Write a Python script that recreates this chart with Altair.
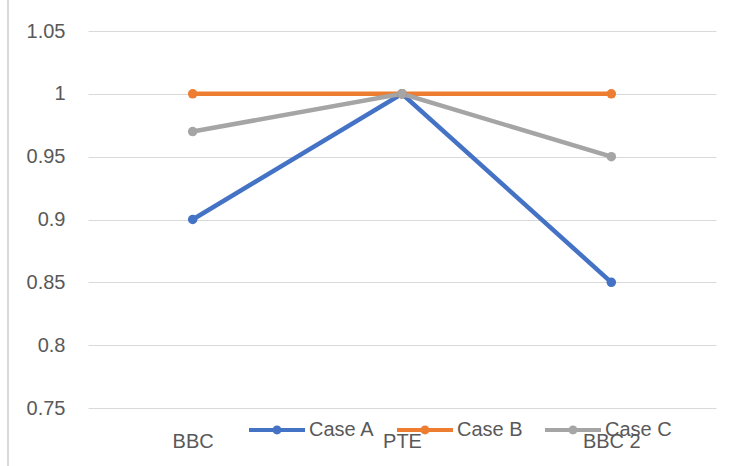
import altair as alt
import pandas as pd

# Categories along the x axis
stages = ["BBC", "PTE", "BBC 2"]

# Series values per stage
case_a = [0.90, 1.00, 0.85]
case_b = [1.00, 1.00, 1.00]
case_c = [0.97, 1.00, 0.95]

series_names = ["Case A", "Case B", "Case C"]
series_colors = ["#4472C4", "#ED7D31", "#A5A5A5"]

y_ticks = [0.75, 0.8, 0.85, 0.9, 0.95, 1.0, 1.05]

rows = []
for name, vals in zip(series_names, [case_a, case_b, case_c]):
    for stage, v in zip(stages, vals):
        rows.append({"stage": stage, "value": v, "series": name})
df = pd.DataFrame(rows)

FONT = "Liberation Sans"
TEXT = "#595959"
GRID = "#D9D9D9"
FS = 20

# legend glyph: a thick line with a dot in the middle
legend_glyph = (
    "M-1,-0.075L1,-0.075L1,0.075L-1,0.075Z "
    "M0.16,0A0.16,0.16,0,1,1,-0.16,0A0.16,0.16,0,1,1,0.16,0Z"
)

legend = alt.Legend(
    title=None, orient="none", direction="horizontal",
    legendX=161, legendY=371,
    symbolType=legend_glyph, symbolSize=3136, symbolStrokeWidth=0,
    symbolOpacity=1,
    labelFont=FONT, labelFontSize=FS, labelColor=TEXT,
    labelOffset=4, columnPadding=22,
)

x_enc = alt.X(
    "stage:N",
    sort=stages,
    scale=alt.Scale(type="point", padding=0.5),
    axis=alt.Axis(
        title=None, labelAngle=0, domain=False, ticks=False, grid=False,
        labelFont=FONT, labelFontSize=FS, labelColor=TEXT, labelPadding=23,
    ),
)
y_enc = alt.Y(
    "value:Q",
    scale=alt.Scale(domain=[0.75, 1.05], nice=False, zero=False),
    axis=alt.Axis(
        title=None, values=y_ticks, format="~g", domain=False, ticks=False,
        grid=True, gridColor=GRID, gridWidth=1,
        labelFont=FONT, labelFontSize=FS, labelColor=TEXT, labelPadding=23,
    ),
)
color_scale = alt.Scale(domain=series_names, range=series_colors)

lines = alt.Chart(df).mark_line(strokeWidth=4.5).encode(
    x=x_enc,
    y=y_enc,
    color=alt.Color("series:N", scale=color_scale, legend=legend),
)

points = alt.Chart(df).mark_point(filled=True, size=90, opacity=1).encode(
    x=x_enc,
    y=y_enc,
    color=alt.Color("series:N", scale=color_scale, legend=legend),
)

# thin frame line at the left edge of the chart area
frame = alt.Chart(pd.DataFrame({"v": [0]})).mark_rule(color=GRID, strokeWidth=2).encode(
    x=alt.value(-80), y=alt.value(-31), y2=alt.value(435)
)

chart = (
    alt.layer(frame, lines, points)
    .properties(
        width=628,
        height=377,
        autosize=alt.AutoSizeParams(type="none"),
        padding={"left": 88, "top": 31, "right": 19, "bottom": 58},
        background="white",
    )
    .configure_view(stroke=None)
)

chart.save("out.html", embed_options={"renderer": "svg", "actions": False})
